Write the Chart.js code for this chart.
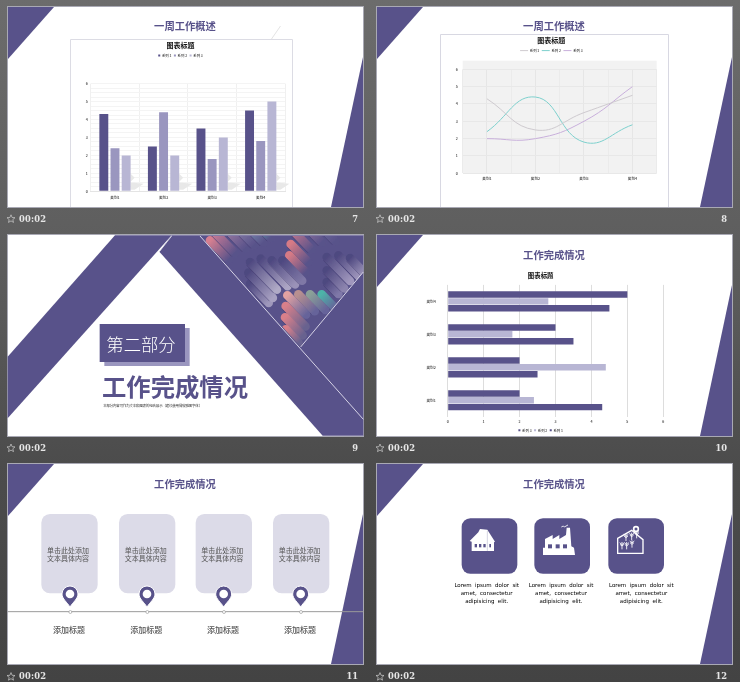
<!DOCTYPE html>
<html><head><meta charset="utf-8">
<script src="https://cdn.jsdelivr.net/npm/chart.js@4/dist/chart.umd.min.js"></script>
<style>
html,body{margin:0;padding:0;width:740px;height:682px;overflow:hidden;background:linear-gradient(#6c6c6c,#5a5a5a 45%,#4c4c4c 68%,#434343)}
#wrap{position:absolute;left:0;top:0;width:740px;height:682px;filter:blur(.3px)}
svg{position:absolute;left:0;top:0}
canvas{position:absolute;display:block}
</style></head><body>
<div id="wrap">
<svg id="deco" width="740" height="682" xmlns="http://www.w3.org/2000/svg"></svg>
<canvas id="c1" width="221" height="167" style="left:71px;top:40px"></canvas>
<canvas id="c2" width="227" height="172" style="left:441px;top:35px"></canvas>
<canvas id="c3" width="342" height="177" style="left:378px;top:268px"></canvas>
</div>
<script>
const categories=["类别1","类别2","类别3","类别4"];
const series1Name="系列 1",series2Name="系列 2",series3Name="系列 3";
const series1=[4.3,2.5,3.5,4.5];
const series2=[2.4,4.4,1.8,2.8];
const series3=[2,2,3,5];

const PUR="#58528a",MID="#9a96bf",LT="#b8b6d4";
const CJK='"Noto Sans CJK SC","Noto Sans",sans-serif';
let s='';
const pts=a=>a.map(p=>p.join(',')).join(' ');
const poly=(a,f,extra='')=>`<polygon points="${pts(a)}" fill="${f}" ${extra}/>`;
const txt=(x,y,t,size,fill,w=400,anchor='middle',extra='')=>`<text x="${x}" y="${y}" font-family='${CJK}' font-size="${size}" font-weight="${w}" fill="${fill}" text-anchor="${anchor}" dominant-baseline="central" ${extra}>${t}</text>`;
const slides=[[8,7,355,200],[377,7,355,200],[8,235,355,201],[377,235,355,201],[8,464,355,200],[377,464,355,200]];
const footY=[218.5,218.5,447.7,447.7,676.3,676.3],nums=[7,8,9,10,11,12];
slides.forEach(([x,y,w,h],i)=>{
  s+=`<rect x="${x-.5}" y="${y-.5}" width="${w+1}" height="${h+1}" fill="#fff" stroke="#a9a9b4" stroke-width="1"/>`;
  if(i!==2){
    s+=poly([[x,y],[x+46,y],[x,y+52]],PUR);
    s+=poly([[x+w,y+50],[x+w,y+h],[x+w-32,y+h]],PUR);
  }
  const fx=x+3,fy=footY[i];
  s+=`<polygon points="${[0,1,2,3,4,5,6,7,8,9].map(k=>{const r=k%2?1.9:4.2,a=-Math.PI/2+k*Math.PI/5;return (fx+r*Math.cos(a)).toFixed(1)+','+(fy+.5+r*Math.sin(a)).toFixed(1)}).join(' ')}" fill="none" stroke="#cfcfcf" stroke-width=".7"/>`;
  s+=`<text x="${x+11}" y="${fy}" font-family="DejaVu Serif" font-weight="700" font-size="8.3" fill="#e6e6e6" dominant-baseline="central" letter-spacing=".2">00:02</text>`;
  s+=`<text x="${x+w-5}" y="${fy}" font-family="DejaVu Serif" font-weight="700" font-size="8.3" fill="#e6e6e6" text-anchor="end" dominant-baseline="central">${nums[i]}</text>`;
});
// titles
s+=txt(185,25.5,"一周工作概述",10.3,PUR,700);
s+=txt(554,25.5,"一周工作概述",10.3,PUR,700);
s+=txt(554,254,"工作完成情况",10.3,PUR,700);
s+=txt(185,483,"工作完成情况",10.3,PUR,700);
s+=txt(554,483,"工作完成情况",10.3,PUR,700);
// chart frames
s+=`<line x1="280.5" y1="26" x2="271.5" y2="39" stroke="#d8d8d8" stroke-width=".7"/>`;
s+=`<path d="M70.5 207V39.5H292.5V207" fill="#fff" stroke="#dcdce4" stroke-width="1"/>`;
s+=`<path d="M440.5 207V34.5H668.5V207" fill="#fff" stroke="#d8d8e2" stroke-width="1"/>`;
s+=`<rect x="462.7" y="60.7" width="194" height="112.6" fill="#f2f2f2"/>`;

// slide 9 (coordinates in the 3x crop space)
s+=`<g transform="translate(0,230) scale(.33333)">`;
s+=poly([[23,380],[345,16],[515,16],[23,565]],PUR);
s+=poly([[478,65],[515,16],[1090,16],[1090,617],[968,617]],PUR);
s+=`</g>`;
// picture
s+=`<defs><clipPath id="pic"><polygon points="15,12 505,12 505,120 317,345"/></clipPath><filter id="soft" x="-10%" y="-10%" width="120%" height="120%"><feGaussianBlur stdDeviation="1.4"/></filter></defs>`;
const stripes=[
 [45,25,80,"#d77f90","#58528a"],[60,2,85,"#c87a95","#58528a"],[92,-12,85,"#a07ca2","#58528a"],[125,-15,75,"#8a80a8","#58528a"],[160,-15,65,"#7a90b0","#58528a"],[195,-15,45,"#5fa8b0","#58528a"],
 [335,-15,65,"#8f729c","#58528a"],[380,-15,60,"#6f6b9c","#58528a"],[290,-8,85,"#c9788c","#58528a"],[287,36,75,"#d67a85","#58528a"],[283,70,70,"#d67a85","#58528a"],
 [165,155,80,"#4e4880","#9f98bc"],[160,122,105,"#4e4880","#a8a1c2"],[165,90,115,"#4e4880","#b0aac6"],[197,80,115,"#4e4880","#aca5c4"],[230,85,100,"#4e4880","#9a92b8"],[262,85,85,"#4e4880","#7f78a6"],
 [395,150,50,"#4e4880","#7f78a8"],[395,115,75,"#4e4880","#8c84ae"],[395,75,100,"#4e4880","#a097bd"],[430,70,90,"#4e4880","#a097bd"],[465,78,60,"#4e4880","#9a92b8"],
 [380,187,55,"#4db2a8","#66649a"],[345,187,65,"#8aa098","#66649a"],[310,187,70,"#b89090","#66649a"],[277,190,80,"#e2a2a2","#66649a"],[272,222,85,"#d9808a","#68628f"],[270,256,75,"#d9808a","#68628f"],[272,292,55,"#d9808a","#68628f"]
];
let grad='',lines='';
stripes.forEach((t,i)=>{
  grad+=`<linearGradient id="g${i}" x1="0" y1="0" x2="1" y2="1"><stop offset="0" stop-color="${t[3]}"/><stop offset="1" stop-color="${t[4]}"/></linearGradient>`;
  const x2=t[0]+t[2]*.7,y2=t[1]+t[2]*.72;
  lines+=`<line x1="${t[0]}" y1="${t[1]}" x2="${x2}" y2="${y2}" stroke="url(#g${i})" stroke-width="26" stroke-linecap="round"/>`;
  lines+=`<line x1="${t[0]-10}" y1="${t[1]+10}" x2="${x2-10}" y2="${y2+10}" stroke="#3c3668" stroke-opacity=".4" stroke-width="3"/>`;
});
s+=`<defs>${grad}</defs><g transform="translate(195,232) scale(.33333)"><g clip-path="url(#pic)"><g filter="url(#soft)">${lines}</g></g>`;
s+=`<line x1="15" y1="12" x2="505" y2="562" stroke="#d6d3e6" stroke-width="3"/>`;
s+=`<line x1="317" y1="345" x2="505" y2="120" stroke="#d6d3e6" stroke-width="3"/></g>`;
s+=`<g transform="translate(0,230) scale(.33333)">`;
s+=`<line x1="478" y1="65" x2="515" y2="18" stroke="#fff" stroke-width="2"/>`;
s+=`<rect x="313" y="294" width="256" height="114" fill="${MID}"/><rect x="299" y="282" width="256" height="114" fill="${PUR}"/>`;
s+=txt(423,340,"第二部分",52,"#fff",300);
s+=txt(525,467,"工作完成情况",73,PUR,700);
s+=txt(458,527,"本部分内容可作为文本和图表的组合展示（建议使用微软雅黑字体）",10.5,"#333",400,'middle','textLength="297"');
s+=`</g>`;

// slide 11
s+=`<g transform="translate(0,455) scale(.33333)">`;
[124,357,587,819].forEach(x=>{
  s+=`<rect x="${x}" y="177" width="169" height="238" rx="26" fill="#dcdbe8"/>`;
  s+=txt(x+80,285,"单击此处添加",21,"#555",400);
  s+=txt(x+80,309,"文本具体内容",21,"#555",400);
});
s+=`<line x1="23" y1="470" x2="1090" y2="470" stroke="#9a9a9a" stroke-width="3"/>`;
[[210,"添加标题",207],[441,"添加标题",439],[671,"添加标题",669],[902,"添加标题",900]].forEach(([x,t,lx])=>{
  s+=`<path d="M${x-24} 417a24 24 0 1 1 48 0c0 14-16 26-24 39c-8-13-24-25-24-39z" fill="${PUR}" stroke="#fff" stroke-width="3"/>`;
  s+=`<circle cx="${x}" cy="417" r="13" fill="#fff"/>`;
  s+=`<circle cx="${x+1}" cy="471" r="4.5" fill="#fff" stroke="#9a9a9a" stroke-width="2"/>`;
  s+=txt(lx,523,t,24,"#555",500);
});
s+=`</g>`;

// slide 12
s+=`<g transform="translate(370,455) scale(.33333)">`;
[275,493,715].forEach(x=>s+=`<rect x="${x}" y="190" width="167" height="166" rx="26" fill="${PUR}"/>`);
s+=poly([[299,258],[325,232],[330,222],[352,224],[375,260],[372,262],[372,288],[305,288],[305,260]],"#fff");
[314,327,340].forEach(x=>s+=`<rect x="${x}" y="267" width="7" height="10" fill="${PUR}"/>`);
s+=`<rect x="358" y="267" width="5" height="10" fill="${PUR}"/><line x1="352" y1="228" x2="352" y2="288" stroke="${PUR}" stroke-width="1.5" opacity=".5"/>`;
s+=poly([[525,278],[525,252],[548,240],[548,252],[568,240],[568,252],[588,240],[590,218],[600,218],[604,274],[612,278],[615,300],[519,300],[519,278]],"#fff");
[534,557,579].forEach(x=>s+=`<rect x="${x}" y="268" width="12" height="12" fill="${PUR}"/>`);
s+=`<path d="M574 216l6-3 3 3 11-6" fill="none" stroke="#fff" stroke-width="2.5"/>`;
s+=`<polygon points="743,250 785,226 819,254 819,295 743,295" fill="none" stroke="#fff" stroke-width="4"/>`;
s+=`<circle cx="798" cy="222" r="7" fill="${PUR}" stroke="#fff" stroke-width="5"/>`;
[[756,283],[770,283],[786,278],[768,258],[785,255],[800,250]].forEach(([x,y])=>{
  s+=`<path d="M${x} ${y}v-22m-7 2l7 6 7-6m-7 10l-6-5m6 5l6-5" fill="none" stroke="#fff" stroke-width="2.6"/>`;
});
[350,573,814].forEach(x=>{
  ["Lorem ipsum dolor sit","amet, consectetur","adipisicing elit."].forEach((l,i)=>s+=`<text x="${x}" y="${390+i*24}" font-family="DejaVu Sans" font-size="16.5" fill="#000" text-anchor="middle" dominant-baseline="central" word-spacing="5">${l}</text>`);
});
s+=`</g>`;
document.getElementById('deco').innerHTML=s;

Chart.defaults.animation=false;
Chart.defaults.font.family=CJK;
const legendGap={id:'legendGap',beforeInit(c,a,o){
  if(!o.extra||!c.legend)return;
  const f=c.legend.fit;
  c.legend.fit=function(){f.call(this);this.height+=o.extra;};
}};
const floorShadow={id:'floorShadow',beforeDatasetsDraw(c){
  const m=c.getDatasetMeta(2);const ctx=c.ctx;ctx.save();ctx.fillStyle='#e8e8e8';
  m.data.forEach(b=>{
    const r=b.x+b.width/2,y0=b.base;
    ctx.beginPath();ctx.moveTo(r,y0-1);ctx.lineTo(r+4,y0-1);ctx.lineTo(r+13,y0-7);ctx.lineTo(r+3,y0-8);ctx.lineTo(r,y0-8);ctx.closePath();ctx.fill();
    ctx.beginPath();ctx.moveTo(r,y0-9);ctx.lineTo(r+4,y0-13);ctx.lineTo(r,y0-17);ctx.closePath();ctx.fill();
  });ctx.restore();
}};
const tick={size:3.6,weight:'500'};
const titleOpt=(size,t,b)=>({display:true,text:"图表标题",color:"#111",font:{size,weight:'700',lineHeight:1.2},padding:{top:t,bottom:b}});
const legendLabels=(extra)=>Object.assign({color:'#333',font:{size:3.4,weight:'500'},padding:2.5},extra);

new Chart(document.getElementById('c1'),{type:'bar',plugins:[legendGap,floorShadow],
 data:{labels:categories,datasets:[
  {label:series1Name,data:series1,backgroundColor:PUR},
  {label:series2Name,data:series2,backgroundColor:MID},
  {label:series3Name,data:series3,backgroundColor:LT}]},
 options:{responsive:false,barPercentage:.8,categoryPercentage:.69,
  layout:{padding:{left:5,right:7,top:0,bottom:5.7}},
  plugins:{tooltip:{enabled:false},title:titleOpt(7,1,2),legend:{position:'top',labels:legendLabels({boxWidth:2,boxHeight:2})},legendGap:{extra:16.3}},
  scales:{
   x:{grid:{color:'#f0f0f0',drawTicks:false},border:{color:'#e4e4e4'},ticks:{font:tick,color:'#333',padding:4},afterFit:a=>{a.height=10}},
   y:{min:0,max:6,grid:{color:'#ededed',drawTicks:false},border:{display:false},ticks:{stepSize:1,font:tick,color:'#333',padding:3},afterFit:a=>{a.width=14.7}},
   y2:{position:'left',min:0,max:6,grid:{color:'#f4f4f4',drawTicks:false},border:{display:false},ticks:{display:false,stepSize:.25,autoSkip:false},afterFit:a=>{a.width=0}}
  }}});

new Chart(document.getElementById('c2'),{type:'line',plugins:[legendGap],
 data:{labels:categories,datasets:[
  {label:series1Name,data:series1,borderColor:'#c9c5cb',borderWidth:.9,pointRadius:0,tension:.45},
  {label:series2Name,data:series2,borderColor:'#7dd0cd',borderWidth:1,pointRadius:0,tension:.45},
  {label:series3Name,data:series3,borderColor:'#c8afdb',borderWidth:1,pointRadius:0,tension:.45}]},
 options:{responsive:false,
  layout:{padding:{left:5,right:11.3,top:0,bottom:23.7}},
  plugins:{tooltip:{enabled:false},title:titleOpt(7,1,2),legend:{position:'top',labels:legendLabels({boxWidth:8,boxHeight:2,usePointStyle:true,pointStyle:'line',pointStyleWidth:8})},legendGap:{extra:7}},
  scales:{
   x:{offset:true,grid:{color:'#e6e6e6',drawTicks:false},border:{display:false},ticks:{font:tick,color:'#333',padding:3},afterFit:a=>{a.height=10}},
   x2:{type:'category',labels:categories,position:'bottom',offset:true,grid:{offset:true,color:'#ebebeb',drawTicks:false},border:{display:false},ticks:{display:false},afterFit:a=>{a.height=0}},
   y:{min:0,max:6,grid:{color:'#e8e8e8',drawTicks:false},border:{display:false},ticks:{stepSize:1,font:tick,color:'#333',padding:5},afterFit:a=>{a.width=16.7}}
  }}});

new Chart(document.getElementById('c3'),{type:'bar',
 data:{labels:categories,datasets:[
  {label:series3Name,data:series3,backgroundColor:PUR},
  {label:series2Name,data:series2,backgroundColor:LT},
  {label:series1Name,data:series1,backgroundColor:PUR}]},
 options:{indexAxis:'y',responsive:false,barPercentage:.95,categoryPercentage:.62,
  layout:{padding:{left:40,right:56.7,top:0,bottom:3}},
  plugins:{tooltip:{enabled:false},title:titleOpt(6.4,3.8,5.4),legend:{position:'bottom',labels:legendLabels({boxWidth:2,boxHeight:2})}},
  scales:{
   x:{min:0,max:6,grid:{color:'#dddddd',lineWidth:1,drawTicks:false},border:{display:false},ticks:{stepSize:1,font:tick,color:'#333',padding:3},afterFit:a=>{a.height=9.3}},
   y:{reverse:true,grid:{display:false},border:{display:false},ticks:{font:tick,color:'#333',padding:4},afterFit:a=>{a.width=29.7}}
  }}});
</script>
</body></html>
